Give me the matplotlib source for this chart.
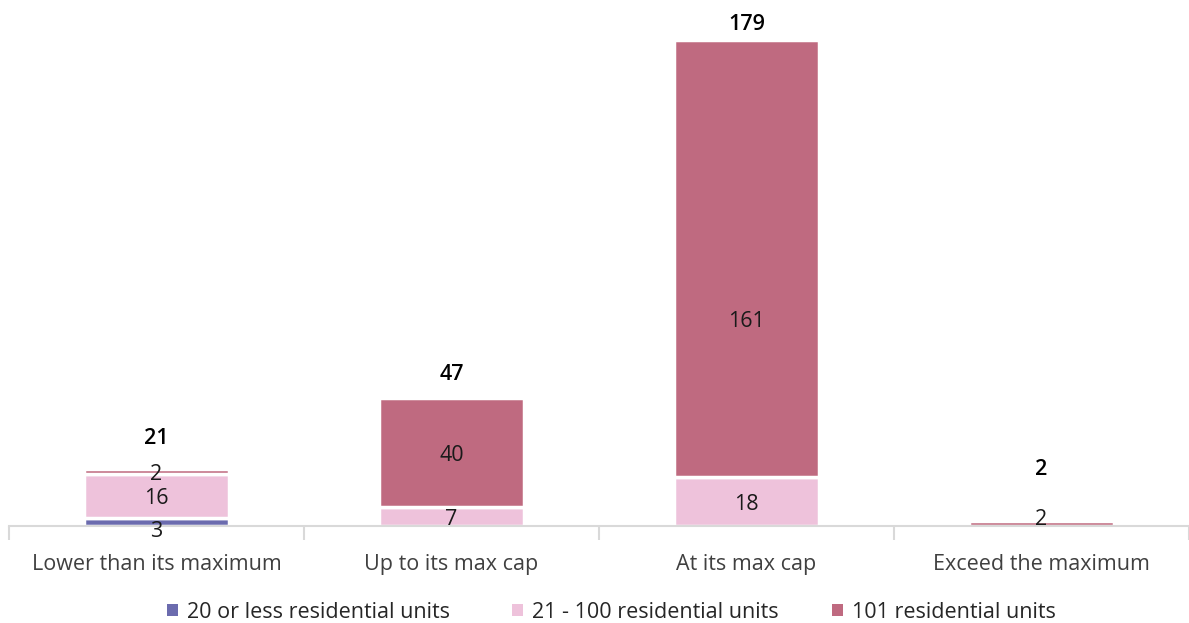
import numpy as np
import matplotlib.pyplot as plt
from matplotlib.patches import Patch

plt.rcParams['font.family'] = ['Open Sans', 'DejaVu Sans']

categories = ["Lower than its maximum", "Up to its max cap", "At its max cap", "Exceed the maximum"]
series_names = ["20 or less residential units", "21 - 100 residential units", "101 residential units"]
small_units = [3, 0, 0, 0]
mid_units = [16, 7, 18, 0]
large_units = [2, 40, 161, 2]

colors = ["#6B6BAE", "#EEC2DB", "#BF6A80"]

fig = plt.figure(figsize=(11.89, 6.23), dpi=100)
ax = fig.add_axes([9 / 1189, 97 / 623, 1180 / 1189, 526 / 623])

# vertical nudges (points) for a few segment labels
label_shift = {(0, 0): -7, (2, 2): -45, (3, 2): 3}

x = np.arange(len(categories))
bottom = np.zeros(len(categories))
for si, (name, vals, col) in enumerate(zip(series_names, [small_units, mid_units, large_units], colors)):
    vals = np.array(vals, dtype=float)
    ax.bar(x, vals, width=0.49, bottom=bottom, color=col, edgecolor="white",
           linewidth=2.5, label=name, zorder=2)
    for xi, b, v in zip(x, bottom, vals):
        if v > 0:
            dy = label_shift.get((xi, si), -2)
            ax.annotate(f"{int(v)}", (xi, b + v / 2), xytext=(0, dy), textcoords="offset points",
                        ha="center", va="center", fontsize=15.5, color="#1a1a1a", zorder=3)
    bottom += vals

# totals above each stack
total_pad = [22, 17, 11, 37]
for xi, tot, pad in zip(x, bottom, total_pad):
    ax.annotate(f"{int(tot)}", (xi, tot), xytext=(0, pad), textcoords="offset points",
                ha="center", va="center", fontsize=15.5, fontweight="semibold", color="black")

ax.set_xlim(-0.5, 3.485)
ax.set_ylim(0, 193.7)
for s in ["top", "right", "left"]:
    ax.spines[s].set_visible(False)
ax.spines["bottom"].set_color("#D9D9D9")
ax.spines["bottom"].set_linewidth(1.5)
ax.set_yticks([])
ax.set_xticks(np.arange(-0.5, 4, 1.0))
ax.set_xticklabels([])
ax.set_xticks(x, minor=True)
ax.set_xticklabels(categories, minor=True, fontsize=15.5, color="#404040")
ax.tick_params(axis="x", which="major", length=10, width=1.5, color="#D9D9D9")
ax.tick_params(axis="x", which="minor", length=0, pad=20)

# legend entries laid out along the bottom
legend_x = [167 / 1189, 512 / 1189, 832 / 1189]
for col, name, lx in zip(colors, series_names, legend_x):
    fig.legend([Patch(facecolor=col)], [name], loc="center left",
               bbox_to_anchor=(lx, 1 - 612 / 623), frameon=False, fontsize=15.5,
               handlelength=0.5, handleheight=0.5, handletextpad=0.45,
               borderpad=0, borderaxespad=0, labelcolor="#262626")

fig.savefig("out.png", dpi=100)
